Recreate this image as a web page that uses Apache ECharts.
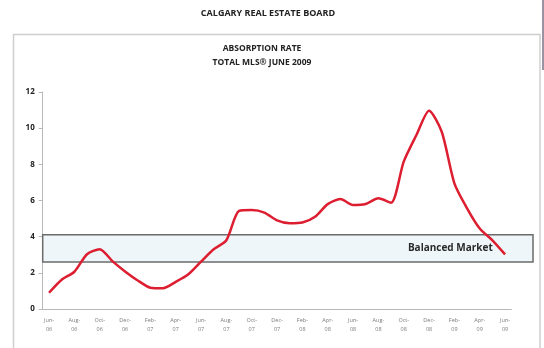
<!DOCTYPE html>
<html>
<head>
<meta charset="utf-8">
<script src="https://cdn.jsdelivr.net/npm/echarts@6/dist/echarts.min.js"></script>
<style>html,body{margin:0;padding:0;background:#fff}#c{width:544px;height:348px}</style>
</head>
<body>
<div id="c"></div>
<script>
const months = ['Jun-06','Jul-06','Aug-06','Sep-06','Oct-06','Nov-06','Dec-06','Jan-07','Feb-07','Mar-07','Apr-07','May-07',
  'Jun-07','Jul-07','Aug-07','Sep-07','Oct-07','Nov-07','Dec-07','Jan-08','Feb-08','Mar-08','Apr-08','May-08',
  'Jun-08','Jul-08','Aug-08','Sep-08','Oct-08','Nov-08','Dec-08','Jan-09','Feb-09','Mar-09','Apr-09','May-09','Jun-09'];
const absorption = [0.9,1.62,2.06,3.03,3.31,2.65,2.08,1.58,1.18,1.15,1.5,1.92,
  2.62,3.3,3.8,5.42,5.47,5.33,4.9,4.74,4.78,5.1,5.8,6.08,
  5.75,5.81,6.12,5.88,8.15,9.62,10.97,9.8,6.95,5.57,4.45,3.8,3.02];
const balancedLow = 2.6;
const balancedHigh = 4.1;
const yTicks = [0,2,4,6,8,10,12];

const chart = echarts.init(document.getElementById('c'), null, {renderer:'canvas'});
const titleFont = {fontFamily:'Open Sans', fontWeight:'bold', color:'#222'};
chart.setOption({
  animation: false,
  backgroundColor: '#fff',
  title: [
    {text:'CALGARY REAL ESTATE BOARD', left: 268, top: 9, padding:0, textAlign:'center',
     textStyle:Object.assign({fontSize:9}, titleFont)},
    {text:'ABSORPTION RATE', left: 262, top: 44.5, padding:0, textAlign:'center',
     textStyle:Object.assign({fontSize:8.5}, titleFont)},
    {text:'TOTAL MLS® JUNE 2009', left: 262, top: 58.5, padding:0, textAlign:'center',
     textStyle:Object.assign({fontSize:8.5}, titleFont)}
  ],
  graphic: [
    {type:'polyline', shape:{points:[[13.5,348],[13.5,34.5],[540,34.5],[540,348]]},
     style:{stroke:'#cfcfcf', lineWidth:1.5, fill:null}, z:-1},
    {type:'line', shape:{x1:543,y1:0,x2:543,y2:70}, style:{stroke:'#7a6f86', lineWidth:1.5}}
  ],
  grid: [
    {left:42.7, right:32.6, top:92, bottom:39},
    {left:42.7, right:11, top:92, bottom:39}
  ],
  xAxis: [
    {type:'category', gridIndex:0, data: months, boundaryGap:true,
     axisLine:{lineStyle:{color:'#b8b8b8', width:1}},
     axisTick:{interval:1, length:3, lineStyle:{color:'#b8b8b8'}},
     axisLabel:{interval:1, fontSize:5.5, lineHeight:9, color:'#7a7a7a', margin:7,
       fontFamily:'Open Sans',
       formatter: v => v.replace('-', '-\n')}},
    {type:'value', gridIndex:1, min:0, max:1, show:false}
  ],
  yAxis: [
    {type:'value', gridIndex:0, min:0, max:12, interval:2,
     axisLine:{show:true, lineStyle:{color:'#b8b8b8'}},
     axisTick:{show:true, length:4, lineStyle:{color:'#b8b8b8'}},
     splitLine:{show:false},
     axisLabel:{fontSize:8, fontWeight:'bold', color:'#222', margin:8, fontFamily:'Open Sans',
       formatter: v => yTicks.includes(v) ? String(v) : ''}},
    {type:'value', gridIndex:1, min:0, max:12, show:false}
  ],
  series: [
    {type:'line', xAxisIndex:1, yAxisIndex:1, data:[], z:1, silent:true,
     markArea:{silent:true,
       itemStyle:{color:'#eef6fa', borderColor:'#6b6b6b', borderWidth:1.5},
       label:{show:true, position:'insideRight', offset:[-36,0], fontFamily:'Open Sans', fontWeight:'bold',
         fontSize:10, color:'#2a2a2a'},
       data:[[{yAxis:balancedLow, name:'Balanced Market'},{yAxis:balancedHigh}]]}},
    {type:'line', xAxisIndex:0, yAxisIndex:0, data: absorption, z:3,
     smooth:0.25, symbol:'none',
     lineStyle:{color:'#dc1e30', width:2.5}}
  ]
});
</script>
</body>
</html>
